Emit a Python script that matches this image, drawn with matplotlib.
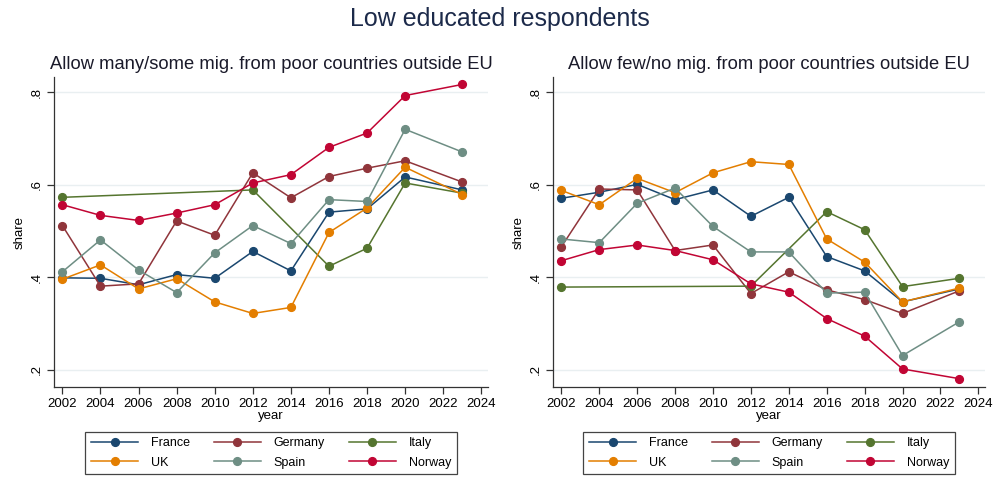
import numpy as np
import matplotlib.pyplot as plt

plt.rcParams['font.family'] = ['Liberation Sans', 'DejaVu Sans']

years = [2002, 2004, 2006, 2008, 2010, 2012, 2014, 2016, 2018, 2020, 2023]
countries = ['France', 'Germany', 'Italy', 'UK', 'Spain', 'Norway']
colors = ['#1a476f', '#90353b', '#55752f', '#e37e00', '#6e8e84', '#c10534']
nan = np.nan

# allow many/some
many_france = [0.399, 0.398, 0.384, 0.406, 0.398, 0.456, 0.414, 0.541, 0.548, 0.617, 0.589]
many_germany = [0.512, 0.381, 0.386, 0.522, 0.491, 0.626, 0.572, 0.618, 0.636, 0.652, 0.606]
many_italy = [0.573, nan, nan, nan, nan, 0.589, nan, 0.424, 0.463, 0.604, 0.582]
many_uk = [0.396, 0.427, 0.375, 0.397, 0.347, 0.322, 0.335, 0.497, 0.550, 0.638, 0.579]
many_spain = [0.412, 0.481, 0.416, 0.367, 0.453, 0.512, 0.473, 0.568, 0.564, 0.720, 0.671]
many_norway = [0.557, 0.534, 0.523, 0.539, 0.557, 0.604, 0.622, 0.681, 0.712, 0.793, 0.817]

# allow few/no
few_france = [0.571, 0.584, 0.601, 0.568, 0.589, 0.532, 0.573, 0.445, 0.414, 0.347, 0.375]
few_germany = [0.466, 0.591, 0.589, 0.458, 0.470, 0.365, 0.412, 0.373, 0.352, 0.322, 0.371]
few_italy = [0.379, nan, nan, nan, nan, 0.381, nan, 0.542, 0.503, 0.380, 0.398]
few_uk = [0.588, 0.557, 0.614, 0.583, 0.626, 0.650, 0.644, 0.483, 0.433, 0.347, 0.377]
few_spain = [0.483, 0.475, 0.560, 0.593, 0.510, 0.455, 0.455, 0.366, 0.368, 0.231, 0.304]
few_norway = [0.436, 0.460, 0.470, 0.458, 0.438, 0.386, 0.368, 0.311, 0.273, 0.202, 0.181]

panels = [
    ("Allow many/some mig. from poor countries outside EU",
     [many_france, many_germany, many_italy, many_uk, many_spain, many_norway]),
    ("Allow few/no mig. from poor countries outside EU",
     [few_france, few_germany, few_italy, few_uk, few_spain, few_norway]),
]

fig = plt.figure(figsize=(10, 4.97), dpi=100)
fig.suptitle("Low educated respondents", fontsize=18, color='#1c2a4a', y=0.985)

lefts = [0.054, 0.553]
widths = [0.434, 0.432]

for (title, series), x0, w in zip(panels, lefts, widths):
    ax = fig.add_axes([x0, 0.2213, w, 0.6237])
    handles = []
    for vals, name, c in zip(series, countries, colors):
        v = np.array(vals, dtype=float)
        yr = np.array(years)
        ok = ~np.isnan(v)
        h, = ax.plot(yr[ok], v[ok], color=c, lw=1.1, marker='o', ms=5.6,
                     label=name)
        handles.append(h)

    ax.set_xlim(2001.56, 2024.35)
    ax.set_ylim(0.163, 0.833)
    ax.set_xticks(range(2002, 2025, 2))
    ax.set_yticks([0.2, 0.4, 0.6, 0.8])
    ax.set_yticklabels(['.2', '.4', '.6', '.8'], rotation=90, va='center')
    ax.grid(axis='y', color='#e9eff1', lw=1)
    ax.set_axisbelow(True)
    for s in ['top', 'right']:
        ax.spines[s].set_visible(False)
    for s in ['left', 'bottom']:
        ax.spines[s].set_color('#333333')
        ax.spines[s].set_linewidth(0.9)
    ax.tick_params(length=5, width=0.9, color='#333333', labelsize=9.5, pad=3)
    ax.set_xlabel("year", fontsize=9.5, labelpad=0)
    ax.set_ylabel("share", fontsize=9.5, labelpad=4)
    ax.set_title(title, fontsize=13.2, color='#1a1a2a', pad=6)

    order = [0, 3, 1, 4, 2, 5]
    leg = fig.legend([handles[i] for i in order], [countries[i] for i in order],
                     loc='center', bbox_to_anchor=(x0 + w / 2, 0.0885),
                     ncol=3, fontsize=9, handlelength=3.8, handletextpad=1.0,
                     columnspacing=1.9, labelspacing=0.6, borderpad=0.45,
                     fancybox=False, edgecolor='#444444', framealpha=1)
    leg.get_frame().set_linewidth(0.9)

fig.savefig("out.png", dpi=100)
